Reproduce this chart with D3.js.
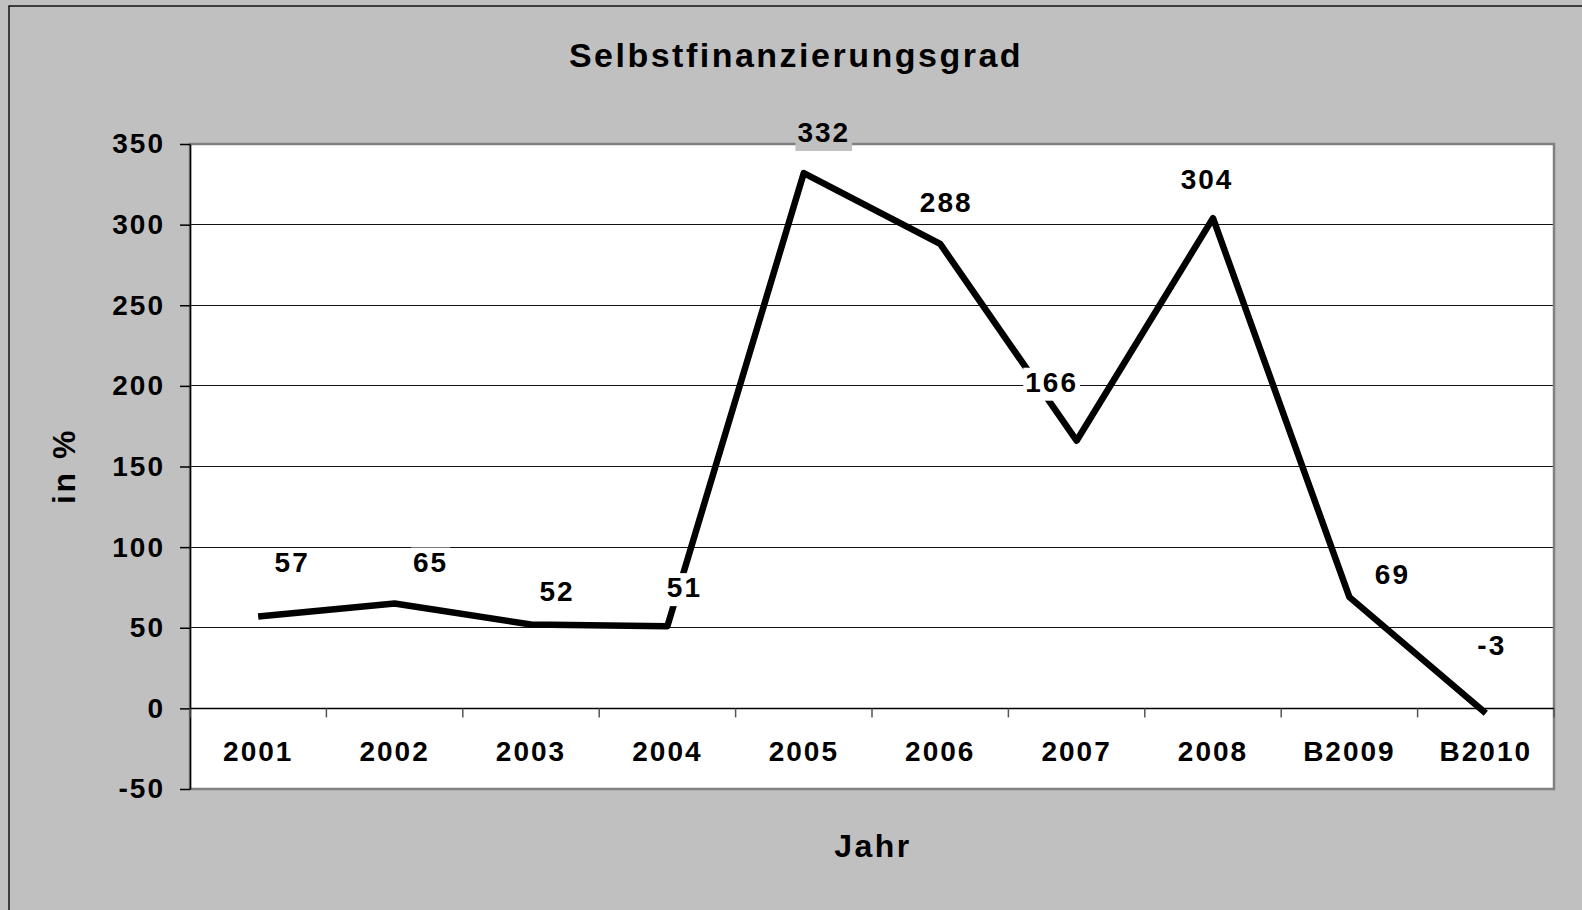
<!DOCTYPE html>
<html>
<head>
<meta charset="utf-8">
<script src="https://cdn.jsdelivr.net/npm/d3@7"></script>
<style>
  body { margin: 0; background: #c0c0c0; overflow: hidden; }
  text { font-family: "Liberation Sans", Arial, sans-serif; font-weight: bold; fill: #000; }
</style>
</head>
<body>
<svg id="chart" width="1582" height="910"></svg>
<script>
// ---- data ----
var years = ['2001', '2002', '2003', '2004', '2005', '2006', '2007', '2008', 'B2009', 'B2010'];
var values = [57, 65, 52, 51, 332, 288, 166, 304, 69, -3];
var y_ticks = [-50, 0, 50, 100, 150, 200, 250, 300, 350];
var chart_title = 'Selbstfinanzierungsgrad';
var x_title = 'Jahr';
var y_title = 'in %';

// ---- layout ----
var plot = {left: 190, top: 144, right: 1554, bottom: 789};
var bg = '#c0c0c0';
// hand-placed label nudges (px, from point to label centre / baseline), as in the original
var label_nudge = [[34, -44], [36, -32], [26, -24], [17, -29], [20, -31],
                   [6, -32], [-25, -49], [-6, -29], [43, -13], [6, -58]];

var svg = d3.select('#chart');

svg.append('rect')
   .attr('x', 9).attr('y', 6).attr('width', 1650).attr('height', 1000)
   .attr('fill', bg).attr('stroke', '#111').attr('stroke-width', 1.5);

var x = d3.scaleBand().domain(years).range([plot.left, plot.right]);
var y = d3.scaleLinear().domain([-50, 350]).range([plot.bottom, plot.top]);

// plot area
svg.append('rect')
   .attr('x', plot.left).attr('y', plot.top)
   .attr('width', plot.right - plot.left).attr('height', plot.bottom - plot.top)
   .attr('fill', '#fff');

// grid lines
svg.append('g').selectAll('line')
   .data(y_ticks.filter(v => v > 0 && v < 350))
   .enter().append('line')
   .attr('x1', plot.left).attr('x2', plot.right)
   .attr('y1', d => y(d)).attr('y2', d => y(d))
   .attr('stroke', '#111').attr('stroke-width', 1)
   .attr('shape-rendering', 'crispEdges');

// plot border
svg.append('rect')
   .attr('x', plot.left).attr('y', plot.top)
   .attr('width', plot.right - plot.left).attr('height', plot.bottom - plot.top)
   .attr('fill', 'none').attr('stroke', '#808080').attr('stroke-width', 2.5);

// y axis
var y_axis = svg.append('g')
   .attr('transform', `translate(${plot.left},0)`)
   .call(d3.axisLeft(y).tickValues(y_ticks).tickFormat(d => String(d))
           .tickSize(10).tickSizeOuter(0).tickPadding(15));
y_axis.select('.domain').attr('stroke', '#000').attr('stroke-width', 1.5);
y_axis.selectAll('.tick line').attr('stroke', '#000').attr('stroke-width', 1.5);
y_axis.selectAll('text')
   .attr('font-size', 28).attr('letter-spacing', 2)
   .attr('font-family', '"Liberation Sans", Arial, sans-serif').attr('font-weight', 'bold');

// x axis at zero
svg.append('line')
   .attr('x1', plot.left).attr('x2', plot.right)
   .attr('y1', y(0)).attr('y2', y(0))
   .attr('stroke', '#000').attr('stroke-width', 1.5);

svg.append('g').selectAll('line')
   .data(d3.range(years.length + 1))
   .enter().append('line')
   .attr('x1', i => plot.left + i * x.step()).attr('x2', i => plot.left + i * x.step())
   .attr('y1', y(0)).attr('y2', y(0) + 9)
   .attr('stroke', '#555').attr('stroke-width', 1.5);

var x_axis = svg.append('g')
   .attr('transform', `translate(0,${y(0)})`)
   .call(d3.axisBottom(x).tickSize(0).tickPadding(33));
x_axis.select('.domain').remove();
x_axis.selectAll('text')
   .attr('font-size', 28).attr('letter-spacing', 2)
   .attr('font-family', '"Liberation Sans", Arial, sans-serif').attr('font-weight', 'bold');

// the line
var cx = (d, i) => x(years[i]) + x.bandwidth() / 2;
var line = d3.line().x(cx).y(d => y(d));

svg.append('path')
   .datum(values)
   .attr('d', line)
   .attr('fill', 'none')
   .attr('stroke', '#000')
   .attr('stroke-width', 6.5)
   .attr('stroke-linejoin', 'round');

// data labels with background boxes
var labels = svg.append('g').selectAll('g')
   .data(values)
   .enter().append('g');

labels.append('text')
   .attr('x', (d, i) => cx(d, i) + label_nudge[i][0])
   .attr('y', (d, i) => y(d) + label_nudge[i][1])
   .attr('text-anchor', 'middle')
   .attr('font-size', 28).attr('letter-spacing', 2)
   .text(d => String(d));

labels.each(function () {
    var g = d3.select(this);
    var b = g.select('text').node().getBBox();
    var top = b.y + 1;
    g.insert('rect', 'text')
     .attr('x', b.x - 2).attr('y', top)
     .attr('width', b.width + 4).attr('height', b.height + 2)
     .attr('fill', top < plot.top ? bg : '#fff');
});

// titles
svg.append('text')
   .attr('x', 796).attr('y', 67)
   .attr('text-anchor', 'middle')
   .attr('font-size', 34).attr('letter-spacing', 2.5)
   .text(chart_title);

svg.append('text')
   .attr('x', 873).attr('y', 857)
   .attr('text-anchor', 'middle')
   .attr('font-size', 32).attr('letter-spacing', 2.5)
   .text(x_title);

svg.append('text')
   .attr('transform', 'translate(75,466) rotate(-90)')
   .attr('text-anchor', 'middle')
   .attr('font-size', 32).attr('letter-spacing', 2.5)
   .text(y_title);
</script>
</body>
</html>
